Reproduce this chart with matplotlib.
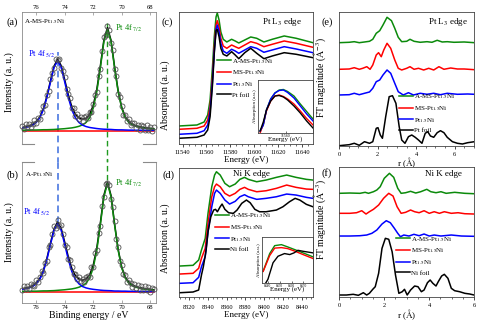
import numpy as np
import matplotlib.pyplot as plt

plt.rcParams['font.family'] = 'serif'
plt.rcParams['font.serif'] = ['Liberation Serif', 'DejaVu Serif']
plt.rcParams['mathtext.fontset'] = 'stix'

GREEN = '#0b8a0b'
RED = '#ff0000'
BLUE = '#0000ff'
BLACK = '#000000'
DASH_BLUE = '#4a78e0'
DASH_GREEN = '#1f9a1f'

# ---------------- XPS Pt 4f ----------------
PEAK_52 = 74.5
PEAK_72 = 71.0
be_fit = np.linspace(77.0, 67.75, 38)
be_pts = np.linspace(77.0, 67.75, 75)

a_bg = [0.102, 0.102]
a_blue = [0.121, 0.125, 0.132, 0.143, 0.163, 0.198, 0.259, 0.353, 0.470, 0.580, 0.630,
          0.580, 0.470, 0.353, 0.259, 0.198, 0.163, 0.143, 0.132, 0.125, 0.121, 0.117,
          0.114, 0.112, 0.111, 0.110, 0.108, 0.107, 0.107, 0.106, 0.105, 0.105, 0.104,
          0.104, 0.104, 0.103, 0.103, 0.103]
a_green = [0.104, 0.105, 0.105, 0.106, 0.106, 0.107, 0.108, 0.108, 0.109, 0.110, 0.112,
           0.114, 0.116, 0.119, 0.122, 0.127, 0.134, 0.145, 0.163, 0.199, 0.271, 0.396,
           0.576, 0.776, 0.870, 0.776, 0.576, 0.396, 0.271, 0.199, 0.163, 0.145, 0.134,
           0.127, 0.122, 0.118, 0.116, 0.113]
a_sum = [0.125, 0.130, 0.137, 0.149, 0.169, 0.205, 0.267, 0.361, 0.479, 0.590, 0.642,
         0.594, 0.486, 0.372, 0.281, 0.225, 0.197, 0.188, 0.195, 0.224, 0.292, 0.413,
         0.590, 0.788, 0.881, 0.786, 0.584, 0.403, 0.278, 0.205, 0.168, 0.150, 0.138,
         0.131, 0.126, 0.121, 0.119, 0.116]
a_data = [0.135, 0.116, 0.148, 0.128, 0.152, 0.129, 0.153, 0.179, 0.159, 0.199, 0.187,
          0.244, 0.289, 0.299, 0.371, 0.400, 0.495, 0.541, 0.578, 0.647, 0.634, 0.642,
          0.572, 0.552, 0.506, 0.413, 0.382, 0.350, 0.269, 0.271, 0.215, 0.225, 0.189,
          0.204, 0.174, 0.201, 0.211, 0.197, 0.244, 0.240, 0.306, 0.374, 0.393, 0.518,
          0.566, 0.706, 0.814, 0.824, 0.891, 0.864, 0.766, 0.713, 0.568, 0.514, 0.381,
          0.358, 0.290, 0.221, 0.221, 0.176, 0.188, 0.143, 0.162, 0.162, 0.124, 0.144,
          0.109, 0.144, 0.134, 0.105, 0.141, 0.106, 0.125, 0.097, 0.130]

b_bg = [0.078, 0.078]
b_blue = [0.097, 0.101, 0.107, 0.117, 0.136, 0.167, 0.223, 0.309, 0.416, 0.516, 0.562,
          0.516, 0.416, 0.309, 0.223, 0.167, 0.136, 0.117, 0.107, 0.101, 0.097, 0.094,
          0.091, 0.089, 0.088, 0.087, 0.085, 0.085, 0.084, 0.084, 0.083, 0.083, 0.082,
          0.082, 0.082, 0.081, 0.081, 0.081]
b_green = [0.082, 0.083, 0.083, 0.084, 0.084, 0.085, 0.086, 0.086, 0.087, 0.088, 0.090,
           0.092, 0.094, 0.097, 0.100, 0.105, 0.112, 0.123, 0.141, 0.177, 0.249, 0.374,
           0.554, 0.754, 0.848, 0.754, 0.554, 0.374, 0.249, 0.177, 0.141, 0.123, 0.112,
           0.105, 0.100, 0.096, 0.094, 0.091]
b_sum = [0.101, 0.106, 0.112, 0.123, 0.142, 0.174, 0.231, 0.317, 0.425, 0.526, 0.574,
         0.530, 0.432, 0.328, 0.245, 0.194, 0.170, 0.162, 0.170, 0.200, 0.268, 0.390,
         0.567, 0.765, 0.858, 0.763, 0.561, 0.381, 0.255, 0.183, 0.146, 0.128, 0.116,
         0.109, 0.104, 0.099, 0.097, 0.094]
b_data = [0.091, 0.120, 0.100, 0.123, 0.100, 0.136, 0.129, 0.119, 0.162, 0.150, 0.186,
          0.225, 0.215, 0.284, 0.299, 0.395, 0.415, 0.490, 0.546, 0.533, 0.590, 0.545,
          0.554, 0.491, 0.412, 0.398, 0.314, 0.307, 0.255, 0.204, 0.208, 0.172, 0.188,
          0.154, 0.170, 0.150, 0.184, 0.195, 0.182, 0.254, 0.254, 0.353, 0.378, 0.499,
          0.545, 0.688, 0.749, 0.844, 0.848, 0.838, 0.739, 0.678, 0.583, 0.453, 0.395,
          0.298, 0.273, 0.207, 0.199, 0.151, 0.166, 0.145, 0.112, 0.136, 0.106, 0.131,
          0.089, 0.119, 0.090, 0.122, 0.091, 0.114, 0.079, 0.106, 0.100]

# ---------------- Pt L3 XANES ----------------
e_c = [11537, 11552, 11558, 11561, 11563, 11565, 11566.5, 11568, 11569, 11570.5, 11572,
       11574, 11577, 11581, 11584, 11587, 11592, 11597, 11602, 11608, 11615, 11625,
       11635, 11649]
c_amspt = [18, 19, 22, 29, 44, 77, 107, 127, 131, 124, 112, 104.7, 102, 104.7, 103, 101,
           104, 107, 105.7, 102, 104.7, 108, 105.7, 101.3]
c_mspt = [14.7, 15.7, 18, 24, 37, 67, 97, 119, 123.3, 117, 105.7, 98, 95.7, 99, 97.3, 95.7,
          99, 102.3, 100.7, 97.3, 99.7, 103, 100.7, 96.7]
c_pt = [9.7, 10.7, 13.3, 19, 32.3, 62.3, 92.3, 114.7, 119, 112.3, 100.7, 93, 90.7, 94.7, 93,
        90.7, 94, 97.3, 95.7, 91.7, 94, 97.3, 95, 91.3]
c_foil = [5.7, 6.7, 9, 14, 27.3, 59, 90.7, 113.3, 114.7, 107.3, 95.7, 89.7, 88, 92.3, 89,
          85.3, 91.3, 95.7, 90.7, 85.3, 88, 91.3, 89.7, 86.3]

e_ci = [11548, 11549.5, 11551, 11553, 11555, 11557, 11559, 11561, 11564, 11567, 11570, 11573]
ci_amspt = [2, 8, 23, 34, 40, 43, 43.5, 41.5, 37, 29, 21.5, 14]
ci_pt = [2, 8, 23, 34, 40, 42.5, 43, 40.5, 35, 27, 19, 12]
ci_mspt = [0, 9, 22, 32, 37, 38, 36.5, 34, 29, 22, 14.5, 8]
ci_foil = [2, 11, 23, 32, 37, 37.5, 36, 33, 27, 20, 12, 5]

# ---------------- Ni K XANES ----------------
e_d = [8310, 8324, 8330, 8333, 8337, 8340, 8344, 8347, 8349, 8353, 8358, 8363, 8369, 8374,
       8379, 8383, 8392, 8402, 8413, 8424, 8434, 8445, 8452]
d_amspt = [31, 31.7, 37, 47, 58.7, 83.7, 110.3, 122, 125.3, 122, 113.7, 110.3, 113, 117.7,
           119.7, 117.7, 115.3, 117, 119.7, 122, 119.7, 117.7, 117]
d_mspt = [23, 23.7, 28.7, 38.7, 48.7, 73.7, 100.3, 110.3, 113, 110.3, 103.7, 101, 103.7,
          107.7, 109.7, 107.7, 105.3, 106.3, 108.7, 112, 109.7, 108, 107.7]
d_pt = [13.7, 14.3, 19.7, 30.3, 40.3, 65.3, 90.3, 103.7, 107, 103.7, 97, 93, 95.7, 100.3,
        102.3, 100.3, 97.7, 98.7, 100.3, 103, 102, 99.7, 98.7]
e_dfoil = [8310, 8324, 8330, 8331, 8333, 8335, 8338, 8340, 8343, 8346, 8348, 8350, 8353,
           8355, 8358, 8362, 8367, 8371, 8376, 8381, 8385, 8390, 8395, 8402, 8413, 8420,
           8427, 8433, 8438, 8445, 8452]
d_foil = [4.3, 5, 7, 12, 22, 30.3, 47, 65.3, 80.3, 87, 87.7, 85.3, 90.3, 93, 87.7, 84.3,
          83.7, 87, 93.7, 97, 94.3, 87.7, 85.3, 85.3, 87, 90.3, 95.3, 98.7, 97, 92.7, 90.3]

e_di = [8336, 8341.5, 8345.7, 8351.4, 8356.7, 8362.6, 8369.6, 8378]
di_amspt = [12.3, 30, 38, 39, 36.7, 34, 30.7, 26.7]
di_mspt = [12, 28, 35.5, 36, 35, 32.5, 29, 25]
e_difoil = [8338, 8340, 8344.3, 8348.5, 8354, 8358.4, 8362, 8365.3, 8369.6, 8378]
di_foil = [0, 4, 20.7, 27.3, 30, 29, 30.7, 33.3, 32.3, 30.7]

# ---------------- FT-EXAFS Pt L3 ----------------
r_e_g = [0, .53, .79, 1.05, 1.32, 1.58, 1.75, 1.93, 2.11, 2.28, 2.49, 2.72, 2.89, 3.07, 3.25,
         3.51, 3.68, 3.89, 4.21, 4.56, 4.82, 5.09, 5.35, 5.61, 5.96, 6.49, 7.02]
e_amspt = [103.3, 103.7, 104.3, 103.3, 104, 104.7, 106.7, 112.7, 115.3, 121, 128.7, 125.3,
           117.7, 108.7, 104.3, 104.7, 106.7, 104.7, 103.7, 104.3, 103.7, 105.7, 104, 104.3,
           103.7, 104, 103.3]
r_e_r = [0, .53, .79, 1.05, 1.23, 1.44, 1.61, 1.75, 1.93, 2.05, 2.19, 2.32, 2.49, 2.68, 2.89,
         3.07, 3.25, 3.51, 3.68, 3.89, 4.12, 4.39, 4.65, 4.91, 5.18, 5.44, 5.79, 6.14, 6.49,
         7.02]
e_mspt = [76.7, 77, 78.3, 76.7, 77.7, 79.3, 76.7, 81, 91, 93.3, 89.3, 96, 102.7, 97.7, 86,
          77.7, 76, 77.7, 79.3, 76.7, 77.7, 76, 77.7, 76, 79.3, 76.7, 78, 77, 77, 76.3]
r_e_b = [0, .53, .79, 1.05, 1.32, 1.58, 1.75, 1.93, 2.11, 2.28, 2.49, 2.68, 2.89, 3.07, 3.33,
         3.6, 3.86, 4.21, 4.56, 4.91, 5.26, 5.61, 6.14, 6.67, 7.02]
e_pt = [51, 51.3, 52.7, 51.3, 52.7, 54, 57.7, 64.3, 66, 71, 76, 72.7, 62.7, 54.3, 51, 53.3,
        51, 52.7, 51.7, 52.7, 51.3, 52.7, 51.7, 52, 51.7]
r_e_k = [0, .53, .79, 1.05, 1.32, 1.58, 1.75, 1.93, 2.02, 2.14, 2.25, 2.42, 2.6, 2.77, 2.95,
         3.12, 3.25, 3.42, 3.6, 3.77, 3.95, 4.12, 4.3, 4.47, 4.6, 4.74, 4.91, 5.09, 5.26,
         5.44, 5.61, 5.88, 6.14, 6.4, 6.67, 7.02]
e_foil = [0.3, 1.3, 2.7, 0.7, 4.3, 2.7, 4.3, 17.7, 18.3, 11, 7.7, 29.3, 49.3, 50.3, 42.7,
          19.3, 6, 2.7, 9.3, 11, 8.7, 6, 2.7, 12.7, 14.3, 10, 8.7, 13.3, 15.3, 13.3, 8.7,
          4.3, 2.7, 2, 3.3, 4.3]

# ---------------- FT-EXAFS Ni K ----------------
r_f_g = [0, .48, .93, 1.16, 1.31, 1.53, 1.68, 1.83, 2.01, 2.24, 2.43, 2.61, 2.76, 2.96, 3.18,
         3.41, 3.63, 3.9, 4.08, 4.31, 4.53, 4.76, 5.14, 5.59, 6.0]
f_amspt = [103.7, 104, 103.7, 104.7, 103.7, 105.3, 107, 110.3, 118.7, 123.7, 119.7, 108.7,
           103.7, 104.3, 105.7, 104, 105.3, 107.7, 105.3, 104.3, 105.3, 103.7, 104.7, 103.7,
           103.3]
r_f_r = [0, .48, .78, 1.01, 1.2, 1.35, 1.53, 1.76, 1.98, 2.21, 2.4, 2.58, 2.76, 2.96, 3.18,
         3.36, 3.56, 3.78, 4.01, 4.23, 4.46, 4.68, 4.99, 5.29, 5.59, 6.0]
f_mspt = [83.7, 83.7, 84.3, 86.3, 83, 85.3, 87.7, 92, 98.7, 103.7, 101, 90.3, 83.7, 84.7, 87,
          85.3, 84.3, 86.3, 83.7, 85.3, 83.7, 85.3, 83.7, 84.3, 83.3, 83]
r_f_b = [0, .48, .93, 1.23, 1.46, 1.68, 1.91, 2.1, 2.28, 2.46, 2.61, 2.73, 2.88, 3.11, 3.33,
         3.56, 3.78, 4.01, 4.23, 4.53, 4.99, 5.44, 6.0]
f_pt = [61, 61, 61.3, 62, 63.7, 67, 73, 76.3, 74.3, 68.7, 63.7, 60.3, 62, 61, 62.7, 61.3, 63,
        61, 62, 61, 62, 61, 60.7]
r_f_k = [0, .33, .63, .86, 1.08, 1.23, 1.35, 1.5, 1.61, 1.76, 1.91, 2.06, 2.21, 2.36, 2.51,
         2.66, 2.81, 2.91, 3.03, 3.18, 3.36, 3.51, 3.66, 3.78, 3.93, 4.05, 4.17, 4.31, 4.41,
         4.56, 4.68, 4.84, 4.99, 5.14, 5.36, 5.59, 5.81, 6.0]
f_foil = [2, 2, 2.7, 1.7, 4.3, 2, 3.7, 7.7, 10.3, 23.7, 48.7, 58.7, 57.7, 45.3, 22, 3.7, 5.3,
          7.7, 2, 7, 11, 10.3, 5.3, 7, 14.3, 17, 13.7, 11, 15.3, 21, 22.7, 18.7, 8.7, 6.3,
          5.3, 3.7, 3, 2]

SAMPLES = [r'A-MS-Pt$_{1.5}$Ni', r'MS-Pt$_{1.5}$Ni', r'Pt$_{1.5}$Ni']
COLORS = [GREEN, RED, BLUE, BLACK]

fig = plt.figure(figsize=(4.8, 3.24), dpi=100)


def frame(ax, color='#444444'):
    for s in ax.spines.values():
        s.set_color(color)
        s.set_linewidth(0.6)


def xps_panel(ax, bg, blue, green, total, data, top):
    ax.plot([be_fit[0], be_fit[-1]], bg, color=RED, lw=1.1, zorder=2)
    ax.plot(be_fit, total, color=BLACK, lw=1.1, zorder=2)
    ax.plot(be_fit, green, color=GREEN, lw=1.1, zorder=3)
    ax.plot(be_fit, blue, color=BLUE, lw=1.1, zorder=4)
    ax.plot(be_pts, data, 'o', ms=3.6, mfc='none', mec='#505050', mew=0.6, zorder=5,
            clip_on=False)
    ax.set_xlim(77.0, 67.6)
    ax.set_ylim(0, 1)
    ax.set_yticks([])
    ax.set_xticks([76, 74, 72, 70, 68])
    frame(ax, '#8a8a8a')
    ax.tick_params(axis='x', labelsize=4.8, length=2, width=0.5, color='#8a8a8a', pad=1.2,
                   direction='in')
    # broken edge between the two XPS panels
    side = 'bottom' if top else 'top'
    ax.spines[side].set_visible(False)
    yy = 0 if top else 1
    for seg in ([0, 0.086], [0.90, 1.0]):
        ax.plot(seg, [yy, yy], color='#8a8a8a', lw=0.8, transform=ax.transAxes,
                clip_on=False)
    ax.set_ylabel('Intensity (a. u.)', fontsize=7)


ax_a = fig.add_axes([0.0458, 0.5556, 0.279, 0.4074])
xps_panel(ax_a, a_bg, a_blue, a_green, a_sum, a_data, True)
ax_a.xaxis.tick_top()
ax_a.yaxis.set_label_coords(-0.06, 0.47)
ax_a.axvline(PEAK_52, ymin=-0.15, ymax=0.70, color=DASH_BLUE, lw=1.2, ls=(0, (4, 2.5)),
             clip_on=False, zorder=1)
ax_a.axvline(PEAK_72, ymin=-0.15, ymax=0.927, color=DASH_GREEN, lw=1.0, ls=(0, (4, 2.5)),
             clip_on=False, zorder=1)
ax_a.text(-0.071, 0.924, '(a)', transform=ax_a.transAxes, fontsize=7.5, ha='center',
          va='center')
ax_a.text(0.015, 0.924, r'A-MS-Pt$_{1.5}$Ni', transform=ax_a.transAxes, fontsize=5,
          va='center')
ax_a.text(0.694, 0.879, r'Pt 4f$_{\ 7/2}$', transform=ax_a.transAxes, fontsize=6,
          va='center', color=GREEN)
ax_a.text(0.045, 0.682, r'Pt 4f$_{\ 5/2}$', transform=ax_a.transAxes, fontsize=6,
          va='center', color=BLUE)

ax_b = fig.add_axes([0.0458, 0.0648, 0.279, 0.435])
xps_panel(ax_b, b_bg, b_blue, b_green, b_sum, b_data, False)
ax_b.yaxis.set_label_coords(-0.06, 0.5)
ax_b.set_xlabel('Binding energy / eV', fontsize=7)
ax_b.xaxis.set_label_coords(0.5, -0.058)
ax_b.axvline(PEAK_52, ymin=0.567, ymax=1.02, color=DASH_BLUE, lw=1.2, ls=(0, (4, 2.5)),
             clip_on=False, zorder=1)
ax_b.axvline(PEAK_72, ymin=0.872, ymax=1.02, color=DASH_GREEN, lw=1.0, ls=(0, (4, 2.5)),
             clip_on=False, zorder=1)
ax_b.text(-0.071, 0.908, '(b)', transform=ax_b.transAxes, fontsize=7.5, ha='center',
          va='center')
ax_b.text(0.022, 0.908, r'A-Pt$_{1.5}$Ni', transform=ax_b.transAxes, fontsize=5,
          va='center')
ax_b.text(0.007, 0.645, r'Pt 4f$_{\ 5/2}$', transform=ax_b.transAxes, fontsize=6,
          va='center', color=BLUE)
ax_b.text(0.694, 0.851, r'Pt 4f$_{\ 7/2}$', transform=ax_b.transAxes, fontsize=6,
          va='center', color=GREEN)


def spectra_axes(ax, xlabel, ylabel, ylab_y, xlab_y, tick_size):
    frame(ax)
    ax.set_yticks([])
    ax.tick_params(axis='x', which='major', labelsize=tick_size, length=2.5, width=0.5,
                   pad=1.5, direction='out')
    ax.tick_params(axis='x', which='minor', length=1.3, width=0.4, direction='out')
    ax.set_xlabel(xlabel, fontsize=6.5)
    ax.set_ylabel(ylabel, fontsize=7)
    ax.xaxis.set_label_coords(0.5, xlab_y)
    ax.yaxis.set_label_coords(-0.07, ylab_y)


def legend(ax, names, x, y):
    ax.legend(names, loc='upper left', bbox_to_anchor=(x, y), frameon=False, fontsize=5,
              handlelength=2.0, handletextpad=0.2, labelspacing=0.4, borderpad=0,
              borderaxespad=0)


# (c) Pt L3 edge XANES
ax_c = fig.add_axes([0.3729, 0.5556, 0.279, 0.4074])
for vals, col in zip([c_amspt, c_mspt, c_pt, c_foil], COLORS):
    ax_c.plot(e_c, vals, color=col, lw=1.1)
ax_c.set_xlim(11537, 11649)
ax_c.set_ylim(0, 132)
ax_c.set_xticks([11540, 11560, 11580, 11600, 11620, 11640])
ax_c.set_xticks(np.arange(11540, 11650, 5), minor=True)
spectra_axes(ax_c, 'Energy (eV)', 'Absorption (a. u.)', 0.37, -0.09, 4.6)
legend(ax_c, SAMPLES + ['Pt foil'], 0.284, 0.66)
ax_c.text(-0.086, 0.924, '(c)', transform=ax_c.transAxes, fontsize=7.5, ha='center',
          va='center')
ax_c.text(0.619, 0.924, r'Pt L$_3$ edge', transform=ax_c.transAxes, fontsize=6.5,
          va='center')

ax_ci = fig.add_axes([0.5375, 0.5895, 0.1146, 0.1636])
for vals, col in zip([ci_amspt, ci_mspt, ci_pt, ci_foil], COLORS):
    ax_ci.plot(e_ci, vals, color=col, lw=1.0)
ax_ci.set_xlim(11547, 11573)
ax_ci.set_ylim(0, 53)
ax_ci.set_xticks([11560])
ax_ci.set_yticks([])
frame(ax_ci)
ax_ci.tick_params(axis='x', labelsize=2.8, length=1.5, width=0.4, pad=0.5, direction='in')
ax_ci.set_xlabel('Energy (eV)', fontsize=5, labelpad=0)
ax_ci.xaxis.set_label_coords(0.5, -0.06)
ax_ci.set_ylabel('Absorption (a.u.)', fontsize=3.5, labelpad=1)

# (d) Ni K edge XANES
ax_d = fig.add_axes([0.3729, 0.0833, 0.279, 0.398])
ax_d.plot(e_d, d_amspt, color=GREEN, lw=1.1)
ax_d.plot(e_d, d_mspt, color=RED, lw=1.1)
ax_d.plot(e_d, d_pt, color=BLUE, lw=1.1)
ax_d.plot(e_dfoil, d_foil, color=BLACK, lw=1.1)
ax_d.set_xlim(8309, 8452)
ax_d.set_ylim(0, 129)
ax_d.set_xticks([8320, 8340, 8360, 8380, 8400, 8420, 8440])
ax_d.set_xticks(np.arange(8310, 8452, 5), minor=True)
spectra_axes(ax_d, 'Energy (eV)', 'Absorption (a. u.)', 0.457, -0.105, 4.6)
ax_d.tick_params(axis='x', which='major', pad=3.0)
legend(ax_d, SAMPLES + ['Ni foil'], 0.269, 0.665)
ax_d.text(-0.082, 0.946, '(d)', transform=ax_d.transAxes, fontsize=7.5, ha='center',
          va='center')
ax_d.text(0.403, 0.953, 'Ni K edge', transform=ax_d.transAxes, fontsize=6.5, va='center')

ax_di = fig.add_axes([0.5458, 0.1256, 0.10625, 0.1438])
ax_di.plot(e_di, di_amspt, color=GREEN, lw=1.0)
ax_di.plot(e_di, di_mspt, color=RED, lw=1.0)
ax_di.plot(e_difoil, di_foil, color=BLACK, lw=1.0)
ax_di.set_xlim(8335, 8378)
ax_di.set_ylim(0, 47)
ax_di.set_xticks([8340, 8350, 8360, 8370])
ax_di.set_yticks([])
frame(ax_di)
ax_di.tick_params(axis='x', labelsize=2.6, length=1.5, width=0.4, pad=0.5, direction='in')
ax_di.set_xlabel('Energy (eV)', fontsize=5, labelpad=0)
ax_di.xaxis.set_label_coords(0.5, -0.07)
ax_di.set_ylabel('Absorption (a.u.)', fontsize=3.5, labelpad=1)

# (e) FT-EXAFS at Pt L3
ax_e = fig.add_axes([0.7063, 0.5494, 0.28125, 0.4136])
ax_e.plot(r_e_g, e_amspt, color=GREEN, lw=1.1)
ax_e.plot(r_e_r, e_mspt, color=RED, lw=1.1)
ax_e.plot(r_e_b, e_pt, color=BLUE, lw=1.1)
ax_e.plot(r_e_k, e_foil, color=BLACK, lw=1.1)
ax_e.set_xlim(0, 7)
ax_e.set_ylim(0, 134)
ax_e.set_xticks([0, 2, 4, 6])
ax_e.set_xticks(np.arange(0, 7.1, 0.5), minor=True)
spectra_axes(ax_e, r'r ($\mathrm{\AA}$)', r'FT magnitude ($\mathrm{\AA}^{-3}$)', 0.51,
             -0.071, 4.6)
ax_e.yaxis.set_label_coords(-0.085, 0.51)
legend(ax_e, SAMPLES + ['Pt foil'], 0.444, 0.40)
ax_e.text(-0.089, 0.925, '(e)', transform=ax_e.transAxes, fontsize=7.5, ha='center',
          va='center')
ax_e.text(0.659, 0.925, r'Pt L$_3$ edge', transform=ax_e.transAxes, fontsize=6.5,
          va='center')

# (f) FT-EXAFS at Ni K
ax_f = fig.add_axes([0.7063, 0.0833, 0.28125, 0.4012])
ax_f.plot(r_f_g, f_amspt, color=GREEN, lw=1.1)
ax_f.plot(r_f_r, f_mspt, color=RED, lw=1.1)
ax_f.plot(r_f_b, f_pt, color=BLUE, lw=1.1)
ax_f.plot(r_f_k, f_foil, color=BLACK, lw=1.1)
ax_f.set_xlim(0, 6)
ax_f.set_ylim(0, 130)
ax_f.set_xticks([0, 2, 4, 6])
ax_f.set_xticks(np.arange(0, 6.1, 0.5), minor=True)
spectra_axes(ax_f, r'r ($\mathrm{\AA}$)', r'FT magnitude ($\mathrm{\AA}^{-3}$)', 0.6,
             -0.077, 4.6)
ax_f.yaxis.set_label_coords(-0.085, 0.6)
legend(ax_f, SAMPLES + ['Ni foil'], 0.422, 0.48)
ax_f.text(-0.089, 0.95, '(f)', transform=ax_f.transAxes, fontsize=7.5, ha='center',
          va='center')
ax_f.text(0.637, 0.946, 'Ni K edge', transform=ax_f.transAxes, fontsize=6.5, va='center')

fig.savefig('out.png', dpi=100)
